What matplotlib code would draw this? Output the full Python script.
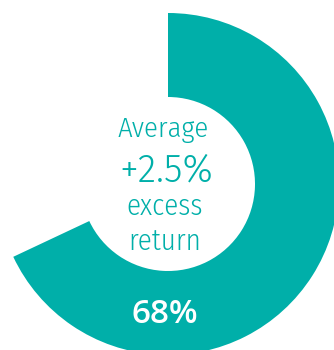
import matplotlib
matplotlib.use("Agg")
import matplotlib.pyplot as plt

# Share of periods with positive excess return, and the headline figures
share_values = [68, 32]
share_label = "68%"
center_lines = ["Average", "+2.5%", "excess", "return"]

TEAL = "#00AFA9"
WORD_FACE = ["Fira Sans Condensed", "DejaVu Sans"]
NUM_FACE = ["Fira Sans", "DejaVu Sans"]

fig = plt.figure(figsize=(3.34, 3.50), dpi=100)
ax = fig.add_axes([0, 0, 1, 1])

ax.pie(share_values, colors=[TEAL, "none"], startangle=90, counterclock=False,
       center=(168, 166), radius=171, frame=True,
       wedgeprops=dict(width=84, linewidth=0, edgecolor="none"))
ax.set_xlim(0, 334)
ax.set_ylim(0, 350)
ax.set_aspect("equal")
ax.axis("off")

ax.text(163.5, 213, center_lines[0], ha="center", va="baseline", fontsize=20.6,
        color=TEAL, family=WORD_FACE, fontweight=300)
ax.text(166, 168, center_lines[1], ha="center", va="baseline", fontsize=27.5,
        color=TEAL, family=NUM_FACE, fontweight=300)
ax.text(164.5, 135, center_lines[2], ha="center", va="baseline", fontsize=20.8,
        color=TEAL, family=WORD_FACE, fontweight=300)
ax.text(164.5, 100, center_lines[3], ha="center", va="baseline", fontsize=20.8,
        color=TEAL, family=WORD_FACE, fontweight=300)
ax.text(164.5, 27, share_label, ha="center", va="baseline", fontsize=24,
        color="white", fontweight=600, family=["Open Sans", "DejaVu Sans"])

fig.savefig("out.png", dpi=100)
